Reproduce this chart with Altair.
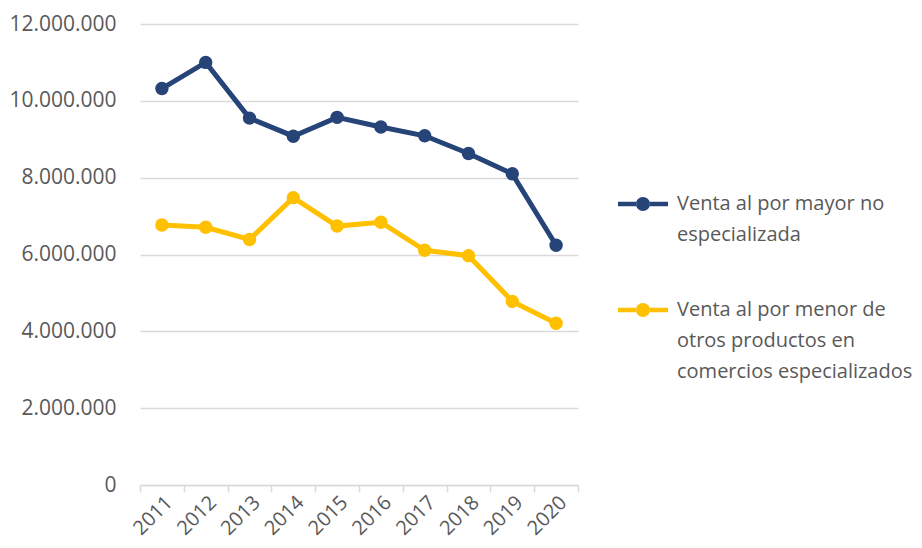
import altair as alt
import pandas as pd

years = ["2011", "2012", "2013", "2014", "2015", "2016", "2017", "2018", "2019", "2020"]
series_names = ["Venta al por mayor no especializada",
                "Venta al por menor de otros productos en comercios especializados"]
mayor = [10320000, 11000000, 9550000, 9080000, 9570000, 9320000, 9090000, 8630000, 8100000, 6240000]
menor = [6770000, 6710000, 6390000, 7480000, 6740000, 6840000, 6110000, 5970000, 4780000, 4210000]
colors = ["#264478", "#FFC000"]
y_ticks = [0, 2000000, 4000000, 6000000, 8000000, 10000000, 12000000]

rows = []
for i, y in enumerate(years):
    rows.append({"year": y, "serie": series_names[0], "value": mayor[i], "order": i})
    rows.append({"year": y, "serie": series_names[1], "value": menor[i], "order": i})
df = pd.DataFrame(rows)

FONT = "Open Sans"
TXT = "#595959"
GRID = "#D9D9D9"

sym = ("M-1,-0.09H-0.27V0.09H-1Z M0.27,-0.09H1V0.09H0.27Z "
       "M-0.28,0A0.28,0.28,0,1,0,0.28,0A0.28,0.28,0,1,0,-0.28,0Z")

label_expr = ("datum.label == '" + series_names[0] + "' ? ['Venta al por mayor no', 'especializada'] : "
              "['Venta al por menor de', 'otros productos en', 'comercios especializados']")

x_enc = alt.X("year:N", title=None, sort=years,
              scale=alt.Scale(type="band", paddingInner=0, paddingOuter=0),
              axis=alt.Axis(labelAngle=-45, tickBand="extent", domainColor=GRID, domainWidth=1.5,
                            tickColor=GRID, tickWidth=1.5, tickSize=7, labelFontSize=20,
                            labelColor=TXT, labelFont=FONT, grid=False, labelPadding=0))
y_enc = alt.Y("value:Q", title=None,
              scale=alt.Scale(domain=[0, 12000000]),
              axis=alt.Axis(values=y_ticks, domain=False, ticks=False, gridColor=GRID, gridWidth=1.5,
                            labelPadding=24, labelFontSize=21, labelColor=TXT, labelFont=FONT,
                            labelExpr="replace(format(datum.value, ',d'), regexp(',', 'g'), '.')"))
color_enc = alt.Color("serie:N", title=None,
                      scale=alt.Scale(domain=series_names, range=colors),
                      legend=alt.Legend(orient="none", legendX=478, legendY=155, padding=0,
                                        symbolType=sym, symbolSize=2500, symbolStrokeWidth=0,
                                        labelExpr=label_expr, labelLimit=500, labelOffset=9,
                                        labelFontSize=20, labelColor=TXT, labelFont=FONT,
                                        rowPadding=40))

base = alt.Chart(df).encode(x=x_enc, y=y_enc, color=color_enc, order="order:Q")
lines = base.mark_line(strokeWidth=5)
points = base.mark_point(filled=True, size=180, opacity=1)

chart = (lines + points).properties(
    width=438, height=461,
    autosize=alt.AutoSizeParams(type="none"),
    padding={"left": 132, "top": 16, "right": 336, "bottom": 55},
).configure(
    font=FONT,
    style={"guide-label": {"lineHeight": 31}},
    view=alt.ViewConfig(stroke=None),
)

chart.save("out.html", embed_options={"renderer": "svg", "actions": False})
